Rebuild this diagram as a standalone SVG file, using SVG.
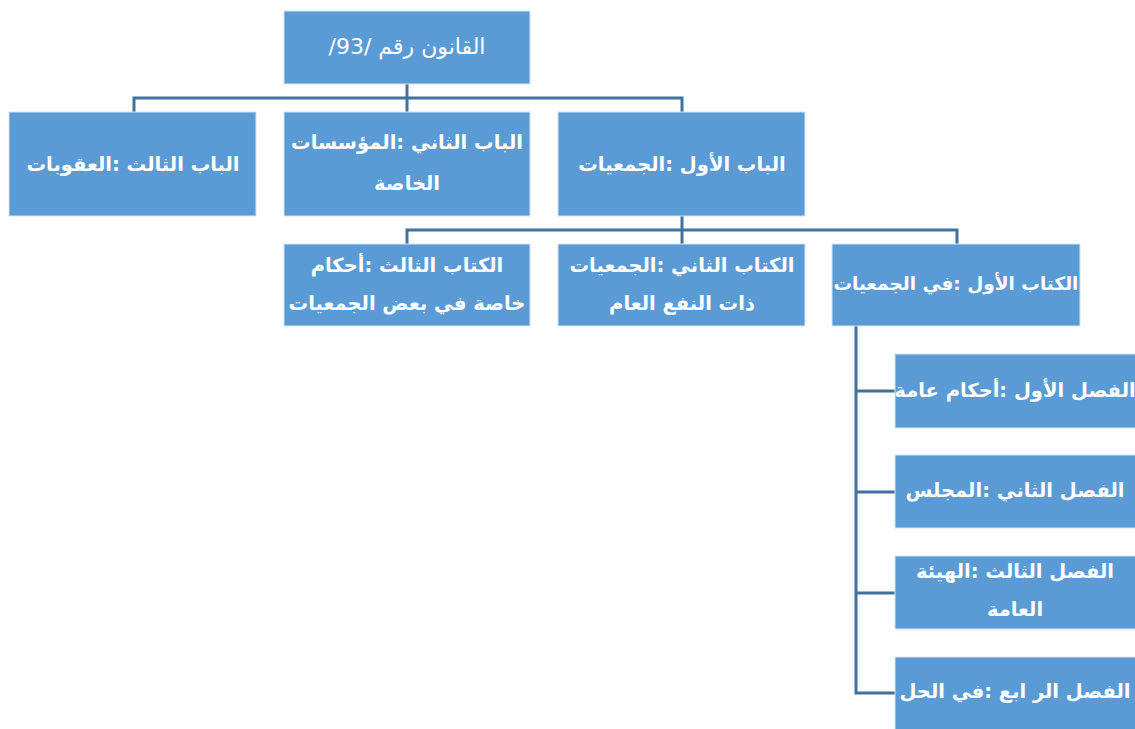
<svg xmlns="http://www.w3.org/2000/svg" width="1135" height="729" viewBox="0 0 1135 729">
<style>
.box{fill:#5B9BD5;stroke:#D6E4F2;stroke-width:1}
.t{font-family:"DejaVu Sans","Noto Sans",sans-serif;font-size:19.5px;fill:#ffffff;text-anchor:middle;font-weight:bold}
.r{font-weight:normal;font-size:22px}
.s{font-size:18.5px}
.c{fill:none;stroke:#41719C;stroke-width:3}
</style>
<rect width="1135" height="729" fill="#ffffff"/>
<g id="connectors">
<path class="c" d="M407 84V98M134 112V98H682V112M407 98V112"/>
<path class="c" d="M682 216V230M407 244V230H957V244M682 230V244"/>
<path class="c" d="M856 326V693H895M856 391H895M856 492H895M856 593H895"/>
</g>
<g id="root"><rect class="box" x="284" y="11" width="246" height="73"/><text class="t r" x="407" y="54" direction="rtl">القانون رقم /93/</text></g>
<g id="bab3"><rect class="box" x="9" y="112" width="247" height="104"/><text class="t" x="133" y="171" direction="rtl">الباب الثالث :العقوبات</text></g>
<g id="bab2"><rect class="box" x="284" y="112" width="246" height="104"/><text class="t" x="407" y="149" direction="rtl">الباب الثاني :المؤسسات</text><text class="t" x="407" y="190" direction="rtl">الخاصة</text></g>
<g id="bab1"><rect class="box" x="558" y="112" width="247" height="104"/><text class="t" x="682" y="171" direction="rtl">الباب الأول :الجمعيات</text></g>
<g id="kitab3"><rect class="box" x="284" y="244" width="246" height="82"/><text class="t" x="407" y="272" direction="rtl">الكتاب الثالث :أحكام</text><text class="t" x="407" y="310" direction="rtl">خاصة في بعض الجمعيات</text></g>
<g id="kitab2"><rect class="box" x="558" y="244" width="247" height="82"/><text class="t" x="682" y="272" direction="rtl">الكتاب الثاني :الجمعيات</text><text class="t" x="682" y="310" direction="rtl">ذات النفع العام</text></g>
<g id="kitab1"><rect class="box" x="832" y="244" width="248" height="82"/><text class="t s" x="956" y="290" direction="rtl">الكتاب الأول :في الجمعيات</text></g>
<g id="fasl1"><rect class="box" x="895" y="354" width="241" height="74"/><text class="t" x="1015" y="397" direction="rtl">الفصل الأول :أحكام عامة</text></g>
<g id="fasl2"><rect class="box" x="895" y="455" width="241" height="73"/><text class="t" x="1015" y="497" direction="rtl">الفصل الثاني :المجلس</text></g>
<g id="fasl3"><rect class="box" x="895" y="556" width="241" height="73"/><text class="t" x="1015" y="578" direction="rtl">الفصل الثالث :الهيئة</text><text class="t" x="1015" y="616" direction="rtl">العامة</text></g>
<g id="fasl4"><rect class="box" x="895" y="657" width="241" height="73"/><text class="t" x="1015" y="698" direction="rtl">الفصل الر ابع :في الحل</text></g>
</svg>
